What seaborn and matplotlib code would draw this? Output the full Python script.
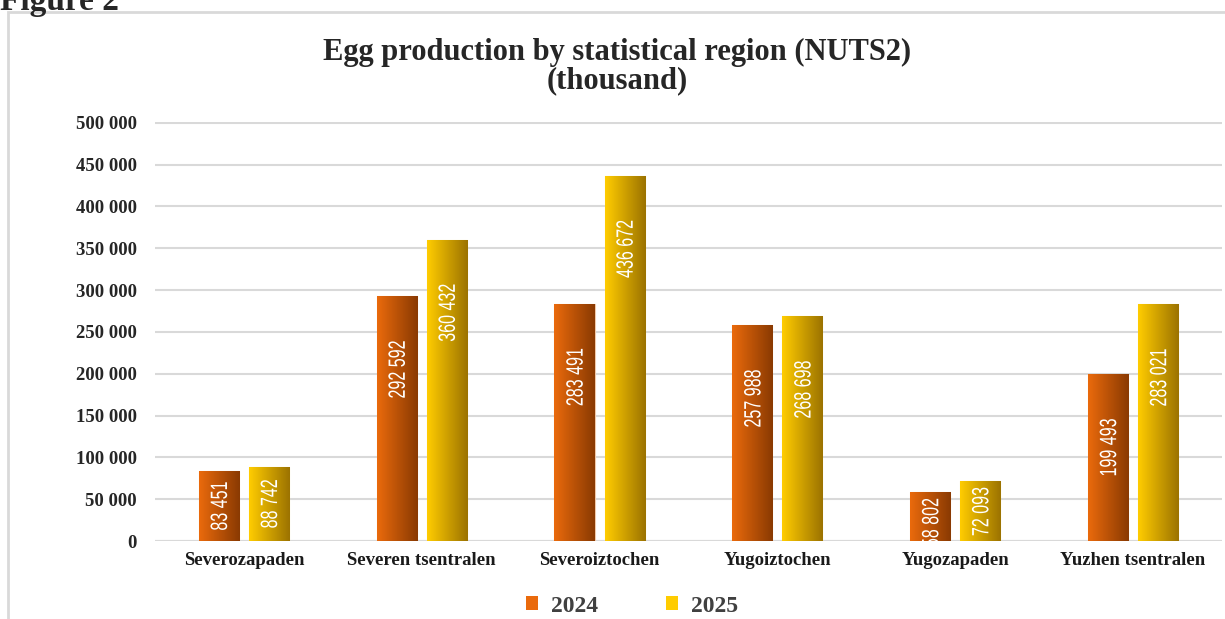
import numpy as np
import pandas as pd
import seaborn as sns
from matplotlib import pyplot as plt
from matplotlib.patches import Rectangle, Patch, PathPatch
from matplotlib.textpath import TextPath
from matplotlib.font_manager import FontProperties
from matplotlib import ticker as ticktools
from matplotlib import transforms as mtransforms

# data
regions = ["Severozapaden", "Severen tsentralen", "Severoiztochen",
           "Yugoiztochen", "Yugozapaden", "Yuzhen tsentralen"]
eggs_2024 = [83451, 292592, 283491, 257988, 58802, 199493]
eggs_2025 = [88742, 360432, 436672, 268698, 72093, 283021]
years = ["2024", "2025"]
y_ticks = [0, 50000, 100000, 150000, 200000, 250000, 300000, 350000, 400000, 450000, 500000]

# left (light) and right (dark) colours of each bar gradient
grad = {"2024": ("#EA6A0C", "#8A3A02"), "2025": ("#FFCC00", "#9C7300")}

df = pd.DataFrame({
    "region": regions * 2,
    "year": ["2024"] * len(regions) + ["2025"] * len(regions),
    "eggs": eggs_2024 + eggs_2025,
})

sns.set_style("white")
serif = ["Liberation Serif", "DejaVu Serif"]

fig = plt.figure(figsize=(12.25, 6.19), dpi=100)
ax = fig.add_axes([0.1265, 0.126, 0.871, 0.677])

sns.barplot(data=df, x="region", y="eggs", hue="year", hue_order=years,
            palette={y: grad[y][0] for y in years}, width=0.563, gap=0.2,
            legend=False, ax=ax, zorder=3)

ymax = 501000
ax.set_yticks(y_ticks)
ax.yaxis.set_major_formatter(ticktools.FuncFormatter(
    lambda v, p: f"{int(v):,}".replace(",", " ")))
ax.grid(axis="y", color="#D9D9D9", linewidth=1.5, zorder=0)
ax.set_axisbelow(True)
for s in ax.spines.values():
    s.set_visible(False)
ax.axhline(0, color="#D9D9D9", linewidth=1.5, zorder=1)
ax.set_xlabel("")
ax.set_ylabel("")
ax.tick_params(axis="y", length=0, pad=13)
ax.tick_params(axis="x", length=0, pad=8)
for lbl in ax.get_yticklabels():
    lbl.set_fontfamily(serif)
    lbl.set_fontweight("bold")
    lbl.set_fontsize(13.5)
    lbl.set_color("#262626")
for lbl in ax.get_xticklabels():
    lbl.set_fontfamily(serif)
    lbl.set_fontweight("bold")
    lbl.set_fontsize(13.5)
    lbl.set_color("#1a1a1a")

# data units per pixel on the y axis
ax_h_px = ax.get_position().height * fig.get_figheight() * fig.dpi
per_px = ymax / ax_h_px

# horizontal gradient in every bar, and a narrow white value label
label_font = FontProperties(family="Liberation Sans")
squeeze = 0.68
bars = [p for p in ax.patches if p.get_height() > 0]
n = len(regions)
for i, bar in enumerate(bars):
    yr = years[i // n]
    c0, c1 = grad[yr]
    cmap = sns.blend_palette([c0, c1], as_cmap=True)
    x0, w, h = bar.get_x(), bar.get_width(), bar.get_height()
    bar.set_edgecolor("#F2C9A8" if yr == "2024" else "#F5DE8A")
    bar.set_linewidth(0.8)
    im = ax.imshow(np.linspace(0, 1, 64).reshape(1, -1), cmap=cmap,
                   extent=[x0, x0 + w, 0, h], aspect="auto", zorder=3.5)
    im.set_clip_path(bar)

    txt = f"{int(h):,}".replace(",", " ")
    tp = TextPath((0, 0), txt, size=17, prop=label_font)
    bb = tp.get_extents()
    half = bb.width * squeeze / 2 * fig.dpi / 72 * per_px
    top = max(h - 45 * per_px, min(h / 2 + half, h - 7 * per_px))
    yc = top - half
    tr = (mtransforms.Affine2D()
          .translate(-(bb.x0 + bb.x1) / 2, -(bb.y0 + bb.y1) / 2)
          .scale(squeeze, 1.0).rotate_deg(90).scale(fig.dpi / 72)
          + mtransforms.ScaledTranslation(x0 + w / 2, yc, ax.transData))
    ax.add_patch(PathPatch(tp, transform=tr, facecolor="white",
                           edgecolor="none", zorder=5))

ax.set_xlim(-0.5, len(regions) - 0.5)
ax.set_ylim(0, ymax)

# title
fig.text(0.504, 0.916, "Egg production by statistical region (NUTS2)",
         ha="center", va="center", fontsize=22, fontweight="bold", family=serif)
fig.text(0.504, 0.870, "(thousand)", ha="center", va="center",
         fontsize=22, fontweight="bold", family=serif)

# legend
handles = [Patch(facecolor=grad[y][0], edgecolor="none") for y in years]
leg = fig.legend(handles, years, loc="center", bbox_to_anchor=(0.516, 0.021),
                 ncol=2, frameon=False, handlelength=0.5, handleheight=0.5,
                 columnspacing=2.9, handletextpad=0.55,
                 prop={"family": serif, "weight": "bold", "size": 17})
for t in leg.get_texts():
    t.set_color("#404040")

# chart frame and the cut-off caption above it
fig.patches.append(Rectangle((8 / 1225, -0.05), 1.1, 1 - 12 / 619 + 0.05,
                             transform=fig.transFigure, fill=False,
                             edgecolor="#D9D9D9", linewidth=2))
fig.text(0.0, 1 - 10 / 619, "Figure 2", ha="left", va="baseline",
         fontsize=24, fontweight="bold", family=serif)

fig.savefig("out.png", dpi=100)
